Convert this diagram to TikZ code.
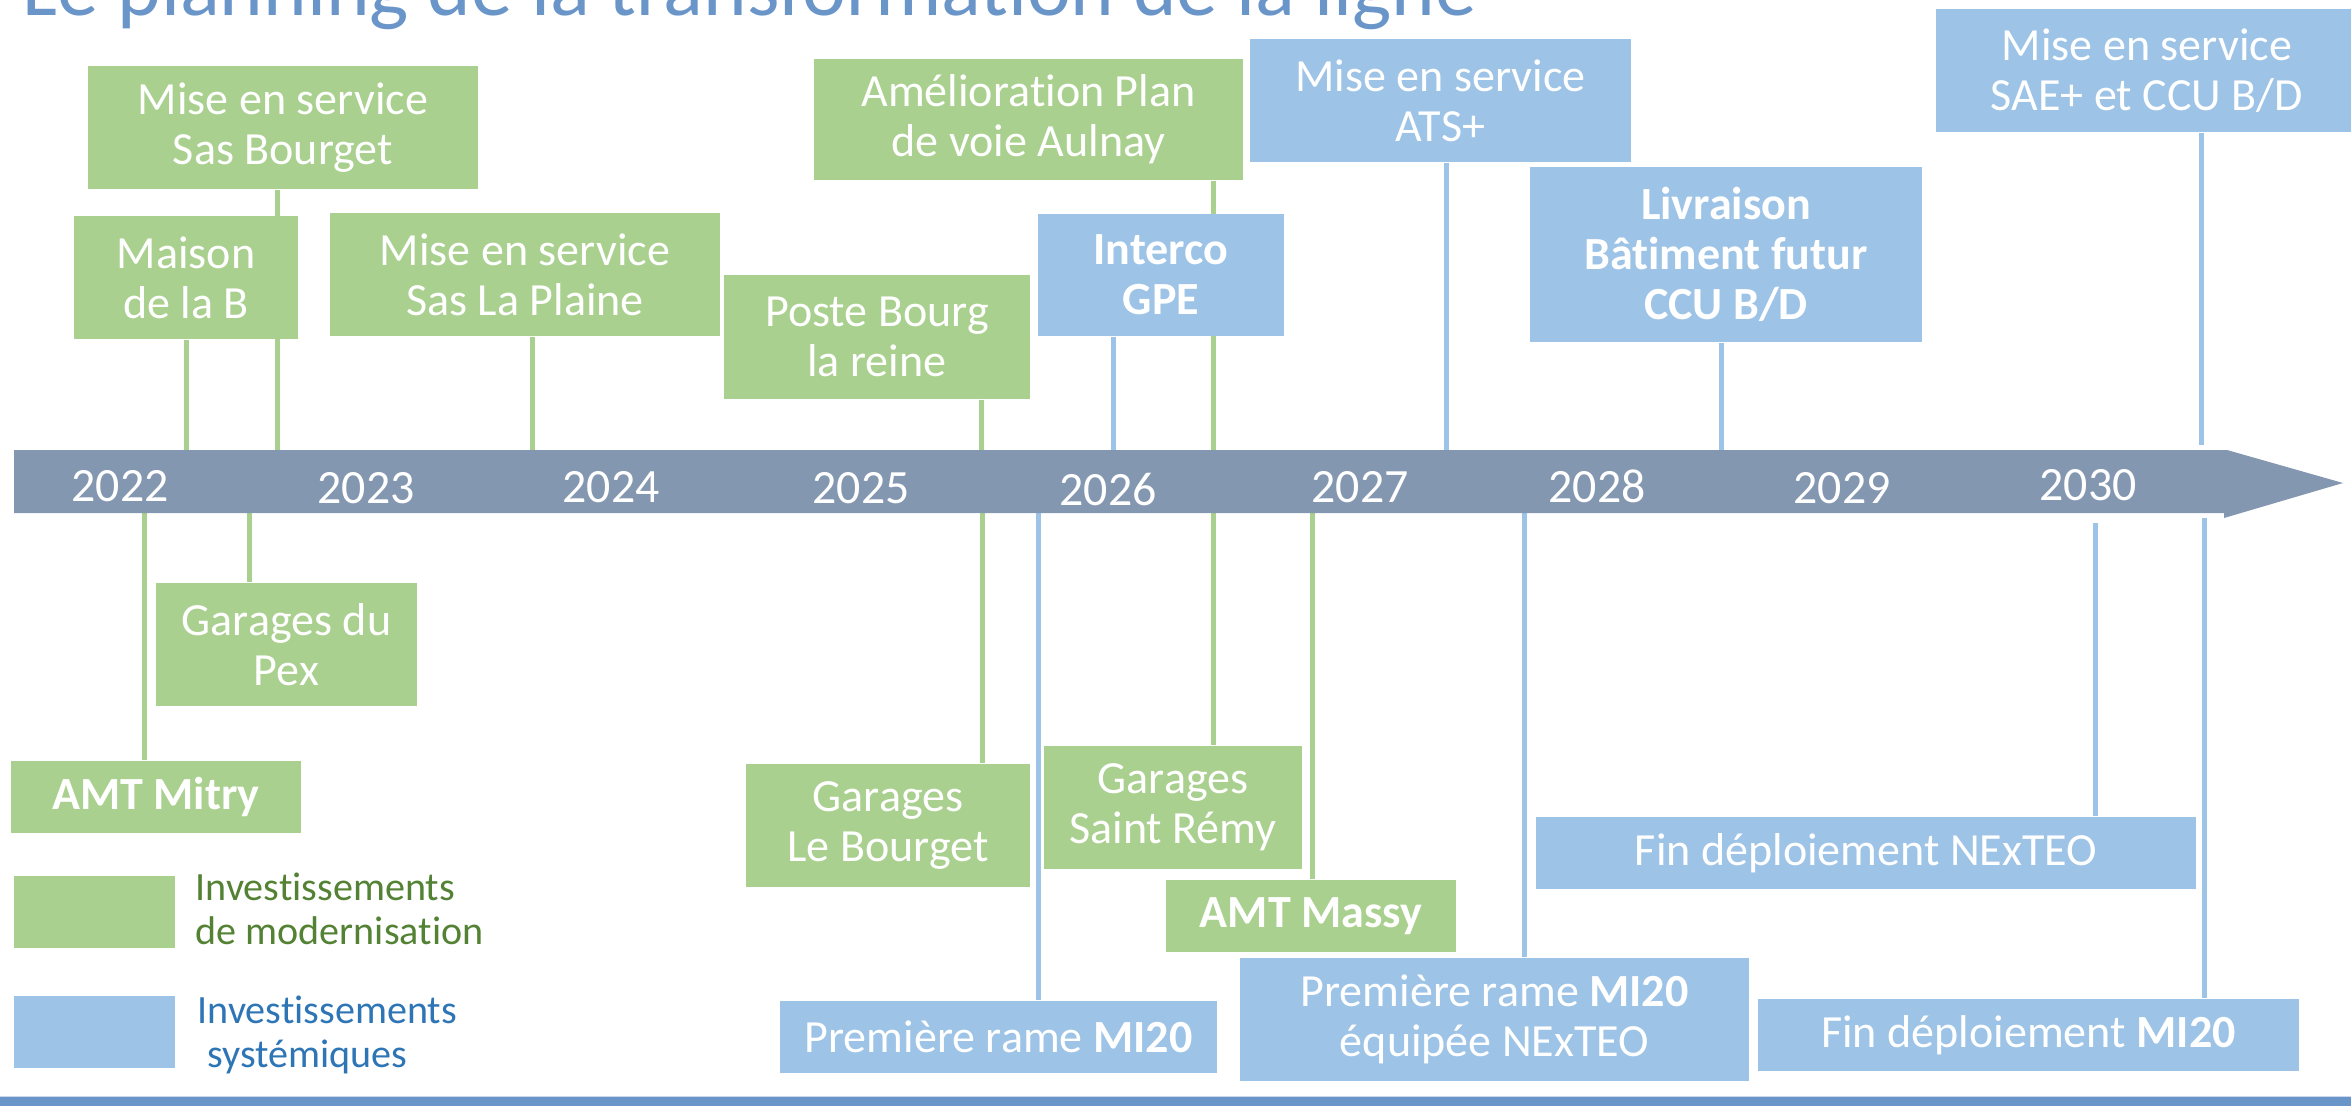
\documentclass[tikz,border=0pt]{standalone}
\usepackage{fontspec}
\setmainfont{Carlito}[Ligatures=NoCommon]
\usetikzlibrary{backgrounds}
\definecolor{gfill}{HTML}{A9D08E}
\definecolor{bfill}{HTML}{9DC3E6}
\definecolor{barcol}{HTML}{8497B0}
\definecolor{rulecol}{HTML}{6A95C9}
\definecolor{rulelight}{HTML}{C9D8EC}
\definecolor{titlecol}{HTML}{6A95C9}
\definecolor{gtext}{HTML}{548235}
\definecolor{btext}{HTML}{2E75B6}
\newcommand\bxfont{\fontsize{13.1}{14.3}\selectfont}
\newcommand\yrfont{\fontsize{13.6}{15}\selectfont}
\newcommand\lgfont{\fontsize{11.4}{12.6}\selectfont}
\begin{document}
\begin{tikzpicture}[x=0.01cm,y=-0.01cm,
  box/.style={rectangle, inner sep=0pt, align=center, text=white, font=\bxfont},
  gbox/.style={box, fill=gfill},
  bbox/.style={box, fill=bfill},
  gcon/.style={draw=gfill, line width=0.05cm},
  bcon/.style={draw=bfill, line width=0.05cm},
  year/.style={anchor=base, text=white, font=\yrfont, inner sep=0pt},
  legtext/.style={anchor=north west, align=left, font=\lgfont, inner sep=0pt}]
\useasboundingbox (0,0) rectangle (2351,1106);

% title
\node[anchor=base west, text=titlecol, font=\fontsize{23.6}{28}\selectfont, inner sep=0pt] (title) at (22,15) {Le planning de la transformation de la ligne};

% green boxes
\node[gbox, minimum width=3.90cm, minimum height=1.23cm] (G1) at (283,127.5) {Mise en service\\Sas Bourget};
\node[gbox, minimum width=2.24cm, minimum height=1.23cm] (G2) at (186,277.5) {Maison\\de la B};
\node[gbox, minimum width=3.90cm, minimum height=1.23cm] (G3) at (525,274.5) {Mise en service\\Sas La Plaine};
\node[gbox, minimum width=3.06cm, minimum height=1.24cm] (G4) at (877,337) {Poste Bourg\\la reine};
\node[gbox, minimum width=4.29cm, minimum height=1.21cm] (G5) at (1028.5,119.5) {Amélioration Plan\\de voie Aulnay};
\node[gbox, minimum width=2.61cm, minimum height=1.23cm] (G6) at (286.5,644.5) {Garages du\\Pex};
\node[gbox, minimum width=2.90cm, minimum height=0.72cm, font=\bxfont\bfseries] (G7) at (156,797) {AMT Mitry};
\node[gbox, minimum width=2.84cm, minimum height=1.23cm] (G8) at (888,825.5) {Garages\\Le Bourget};
\node[gbox, minimum width=2.58cm, minimum height=1.23cm] (G9) at (1173,807.5) {Garages\\Saint Rémy};
\node[gbox, minimum width=2.90cm, minimum height=0.72cm, font=\bxfont\bfseries] (G10) at (1311,916) {AMT Massy};

% blue boxes
\node[bbox, minimum width=2.46cm, minimum height=1.22cm, font=\bxfont\bfseries] (B1) at (1161,275) {Interco\\GPE};
\node[bbox, minimum width=3.81cm, minimum height=1.23cm] (B2) at (1440.5,100.5) {Mise en service\\ATS+};
\node[bbox, minimum width=3.92cm, minimum height=1.75cm, font=\bxfont\bfseries] (B3) at (1726,254.5) {Livraison\\Bâtiment futur\\CCU B/D};
\node[bbox, minimum width=4.22cm, minimum height=1.23cm] (B4) at (2147,70.5) {Mise en service\\SAE+ et CCU B/D};
\node[bbox, minimum width=4.37cm, minimum height=0.72cm] (B5) at (998.5,1037) {Première rame \textbf{MI20}};
\node[bbox, minimum width=5.09cm, minimum height=1.23cm] (B6) at (1494.5,1019.5) {Première rame \textbf{MI20}\\équipée NExTEO};
\node[bbox, minimum width=6.60cm, minimum height=0.72cm] (B7) at (1866,853) {Fin déploiement NExTEO};
\node[bbox, minimum width=5.41cm, minimum height=0.72cm] (B8) at (2028.5,1035) {Fin déploiement \textbf{MI20}};

% timeline bar
\fill[barcol] (14,450) -- (2227,450) -- (2343,483) -- (2224,518) -- (2224,513) -- (14,513) -- cycle;
\node[year] (y22) at (120,501) {2022};
\node[year] (y23) at (366,503) {2023};
\node[year] (y24) at (611,502) {2024};
\node[year] (y25) at (861,503) {2025};
\node[year] (y26) at (1108,505) {2026};
\node[year] (y27) at (1360,502) {2027};
\node[year] (y28) at (1597,502) {2028};
\node[year] (y29) at (1842,503) {2029};
\node[year] (y30) at (2088,500) {2030};

% attachment points on the bar
\coordinate (t1) at (277,450);
\coordinate (t2) at (186,450);
\coordinate (t3) at (532,450);
\coordinate (t4) at (981,450);
\coordinate (t5) at (1213,450);
\coordinate (u1) at (1113,450);
\coordinate (u2) at (1446,450);
\coordinate (u3) at (1721,450);
\coordinate (u4) at (2201,445);
\coordinate (d6) at (249,513);
\coordinate (d7) at (144,513);
\coordinate (d8) at (982,513);
\coordinate (d9) at (1213,513);
\coordinate (d10) at (1312,513);
\coordinate (e5) at (1038,513);
\coordinate (e6) at (1524,513);
\coordinate (e7) at (2095,523);
\coordinate (e8) at (2204,518);

\begin{scope}[on background layer]
\draw[gcon] (G1.south -| t1) -- (t1);
\draw[gcon] (G2.south -| t2) -- (t2);
\draw[gcon] (G3.south -| t3) -- (t3);
\draw[gcon] (G4.south -| t4) -- (t4);
\draw[gcon] (G5.south -| t5) -- (t5);
\draw[bcon] (B1.south -| u1) -- (u1);
\draw[bcon] (B2.south -| u2) -- (u2);
\draw[bcon] (B3.south -| u3) -- (u3);
\draw[bcon] (B4.south -| u4) -- (u4);
\draw[gcon] (d6) -- (d6 |- G6.north);
\draw[gcon] (d7) -- (d7 |- G7.north);
\draw[gcon] (d8) -- (d8 |- G8.north);
\draw[gcon] (d9) -- (d9 |- G9.north);
\draw[gcon] (d10) -- (d10 |- G10.north);
\draw[bcon] (e5) -- (e5 |- B5.north);
\draw[bcon] (e6) -- (e6 |- B6.north);
\draw[bcon] (e7) -- (e7 |- B7.north);
\draw[bcon] (e8) -- (e8 |- B8.north);
\end{scope}

% legend
\node[gbox, minimum width=1.61cm, minimum height=0.72cm] (LG) at (94.5,912) {};
\node[bbox, minimum width=1.61cm, minimum height=0.72cm] (LB) at (94.5,1032) {};
\node[legtext, text=gtext] (LGt) at (195,872) {Investissements\\de modernisation};
\node[legtext, text=btext] (LBt) at (197,995) {Investissements\\\hspace{0.1cm}systémiques};

% bottom rule
\fill[rulecol] (0,1097) rectangle (2351,1106);
\draw[rulelight, line width=0.01cm] (0,1096.5) -- (2351,1096.5);
\end{tikzpicture}
\end{document}
